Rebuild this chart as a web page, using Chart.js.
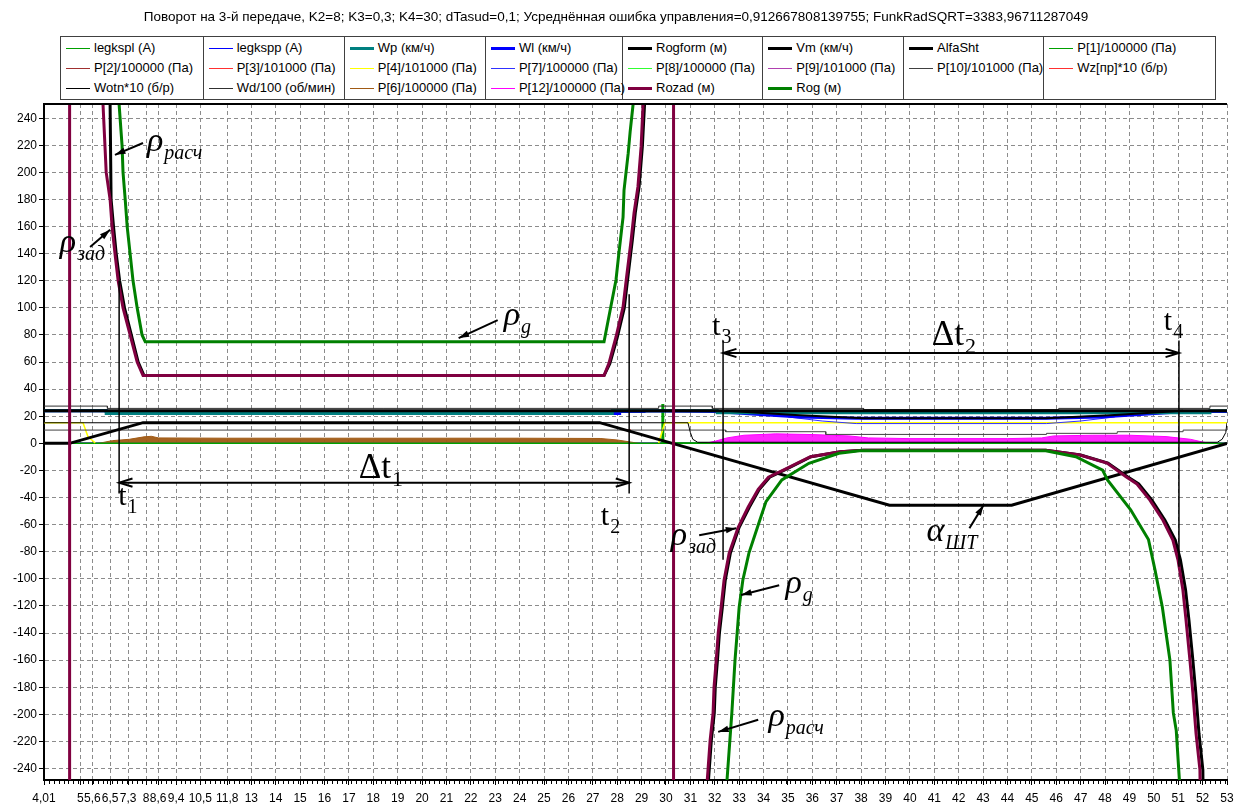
<!DOCTYPE html>
<html>
<head>
<meta charset="utf-8">
<title>Поворот на 3-й передаче</title>
<script src="https://cdn.jsdelivr.net/npm/chart.js@4.4.0/dist/chart.umd.min.js"></script>
<style>
  body { margin: 0; background: #fff; }
  #wrap { position: relative; width: 1244px; height: 812px; overflow: hidden; }
  #chart { position: absolute; left: 0; top: 0; }
  #title { position: absolute; left: 0; top: 9px; width: 1232px; text-align: center;
           font: 13.5px "Liberation Sans", Arial, sans-serif; color: #000; white-space: nowrap; }
  #legend { position: absolute; left: 60px; top: 36px; width: 1156px; height: 64px;
            border: 1px solid #404040; box-sizing: border-box; background: #fff;
            font: 13px "Liberation Sans", Arial, sans-serif; color: #000; }
  .sep { position: absolute; top: 0; bottom: 0; width: 1px; background: #404040; }
  .item { position: absolute; height: 20px; line-height: 20px; white-space: nowrap; }
  .item i { position: absolute; left: 0; width: 24px; }
  .item span { position: absolute; left: 28px; }
</style>
</head>
<body>
<div id="wrap">
  <canvas id="chart" width="1244" height="812"></canvas>
  <div id="title">Поворот на 3-й передаче, K2=8; K3=0,3; K4=30; dTasud=0,1; Усреднённая ошибка управления=0,912667808139755; FunkRadSQRT=3383,96711287049</div>
  <div id="legend"></div>
</div>
<script>
// axis: time labels sit on uneven positions at the start
const xTickPos = [4.5, 5.99, 6.48, 7.21, 7.95, 8.69, 9.18, 9.92, 10.91, 12.01,
  13, 14, 15, 16, 17, 18, 19, 20, 21, 22, 23, 24, 25, 26, 27, 28, 29, 30, 31, 32,
  33, 34, 35, 36, 37, 38, 39, 40, 41, 42, 43, 44, 45, 46, 47, 48, 49, 50, 51, 52, 53];
const xTickLabels = ['4,01', '5', '5,6', '6,5', '7,3', '8', '8,6', '9,4', '10,5', '11,8',
  '13', '14', '15', '16', '17', '18', '19', '20', '21', '22', '23', '24', '25', '26', '27', '28', '29', '30', '31', '32',
  '33', '34', '35', '36', '37', '38', '39', '40', '41', '42', '43', '44', '45', '46', '47', '48', '49', '50', '51', '52', '53'];
const yTicks = [-240, -220, -200, -180, -160, -140, -120, -100, -80, -60, -40, -20, 0,
  20, 40, 60, 80, 100, 120, 140, 160, 180, 200, 220, 240];

// series values
const rozadX = [4.5, 5.55, 5.55, 6.88, 6.92, 7.05, 7.21, 7.29, 7.41, 7.54, 7.74, 8.03, 8.32, 8.56,
  27.46, 27.66, 27.95, 28.24, 28.37, 28.57, 28.69, 28.85, 28.98, 29.06, 29.25, 30.31, 30.31,
  31.6, 31.69, 31.81, 31.93, 31.97, 32.06, 32.14, 32.26, 32.38, 32.59, 32.96, 33.37, 33.78, 34.2, 34.81,
  35.92, 37.15, 38.1, 45.57, 46.97, 48.08, 48.86, 49.31, 49.84, 50.37, 50.78, 50.99, 51.19, 51.32,
  51.48, 51.6, 51.73, 51.89, 52.0, 53.0];
const rozadY = [-5000, -5000, 5000, 400, 250, 200, 180, 160, 140, 120, 100, 80, 60, 50,
  50, 59, 78.5, 100.7, 120.6, 150, 170, 189.5, 219, 250, 400, 5000, -5000,
  -400, -249, -219, -199, -180, -160, -140, -121, -101, -81, -62, -47, -34, -25, -19.7,
  -9.9, -6.2, -5, -5, -8.6, -14.6, -24.6, -30, -41.9, -56.6, -71.4, -86, -108, -130.5,
  -160, -184, -214, -241, -400, -5000];

const rogformX = [7.16, 7.21, 7.25, 7.35, 7.46, 7.6, 7.8, 8.08, 8.36, 8.6,
  27.46, 27.7, 28.0, 28.29, 28.42, 28.62, 28.74, 28.9, 29.03, 29.12, 29.3, 30.3,
  31.65, 31.74, 31.86, 31.98, 32.02, 32.11, 32.19, 32.31, 32.43, 32.64, 33.0, 33.42, 33.82, 34.25, 34.85,
  35.95, 37.15, 38.1, 45.57, 47.0, 48.12, 48.92, 49.38, 49.92, 50.45, 50.88, 51.09, 51.3, 51.44,
  51.6, 51.72, 51.85, 52.01, 52.1];
const rogformY = [400, 250, 180, 160, 140, 120, 100, 80, 60, 50,
  50, 59, 78, 100, 120, 150, 170, 190, 219, 250, 400, null,
  -400, -249, -219, -199, -180, -160, -140, -121, -101, -81, -62, -47, -34, -25, -19.7,
  -9.9, -6.2, -5, -5, -8.6, -14.6, -24.6, -30, -41.9, -56.6, -71.4, -86, -108, -130.5,
  -160, -184, -214, -241, -400];

const rogX = [7.55, 7.58, 7.7, 7.74, 7.83, 7.91, 8.03, 8.15, 8.32, 8.52, 8.65,
  27.46, 27.74, 27.95, 28.07, 28.24, 28.28, 28.45, 28.53, 28.65, 28.8, 30.3,
  32.45, 32.5, 32.7, 32.83, 33.0, 33.15, 33.4, 33.75, 34.1, 34.75, 35.86, 37.09, 37.93,
  45.57, 46.8, 47.9, 48.1, 49.05, 49.78, 50.05, 50.35, 50.5, 50.66, 50.8, 50.92, 51.05, 51.12];
const rogY = [400, 250, 220, 200, 180, 160, 140, 120, 100, 80, 75,
  75, 101, 120.6, 140.5, 167, 187, 214, 230, 250, 400, null,
  -400, -249, -199, -160, -121, -101, -81, -62, -43, -27, -14.7, -7.3, -5.4,
  -5.4, -9.9, -19.7, -27, -49, -71, -93.6, -121, -140, -160, -199, -212, -249, -400];

const alfaX = [4.5, 5.55, 8.56, 27.28, 39.16, 44.17, 53.0];
const alfaY = [0, 0, 15.3, 15.3, -45.6, -45.6, 0];

const vmX = [4.5, 53.0];
const vmY = [24.1, 24.1];
const vmDipX = [32.47, 35.3, 38.1, 45.57, 48.4, 51.2];
const vmDipY = [24.1, 21, 18.5, 18.5, 21, 24.1];

const wpX = [4.5, 7.05, 7.05, 27.8, 27.8, 32.1, 32.1, 52.3, 52.3, 53.0];
const wpY = [24.1, 24.1, 22.1, 22.1, 24.1, 24.1, 22.6, 22.6, 24.1, 24.1];

const wlX = [4.5, 7.05, 7.05, 8.56, 8.56, 28.1, 28.1, 29.1, 29.1, 32.0, 33.7, 35.5, 37.8, 45.6, 47.8, 49.6, 51.3, 53.0];
const wlY = [24.1, 24.1, 23.5, 23.5, 22.1, 22.1, 23.5, 23.5, 24.1, 23.6, 21.5, 19.5, 18.5, 18.5, 19.5, 21.5, 23.6, 23.6];

const wdX = [4.5, 7.1, 7.1, 29.7, 29.7, 31.9, 31.9, 38.1, 38.1, 46.1, 46.1, 52.3, 52.3, 53.0];
const wdY = [27.5, 27.5, 25.8, 25.8, 27.5, 27.5, 25.8, 25.8, 24.9, 24.9, 25.8, 25.8, 27.5, 27.5];

const p10X = [4.5, 32.45, 32.45, 36.55, 36.55, 45.6, 45.6, 48.5, 48.5, 51.2, 51.2, 53.0];
const p10Y = [9.8, 9.8, 8.6, 8.6, 6.6, 6.6, 7.4, 7.4, 8.6, 8.6, 9.8, 9.8];

const wotnX = [4.5, 30.9, 31.0, 31.1, 31.3, 52.6, 52.8, 52.95, 53.0];
const wotnY = [15.2, 15.2, 8, 3, 0.8, 0.8, 3, 8, 15.2];

const p7X = [35.0, 36.4, 37.8, 45.6, 47.0, 48.4];
const p7Y = [19.5, 16.5, 14.6, 14.6, 16.5, 19.5];

const p4X = [4.5, 6.1, 6.3, 6.6, 18, 29.7, 29.95, 53.0];
const p4Y = [15.2, 15.2, 5, 0.3, null, 0.3, 15.2, 15.2];

const legksplX = [4.5, 29.84, 29.84, 29.9, 29.9, 53.0];
const legksplY = [0, 0, 28.5, 28.5, 0, 0];

const p12X = [4.5, 30.3, 31.6, 32.0, 32.5, 33.2, 34.5, 36.0, 37.5, 38.3, 40, 42, 44, 45.4, 45.9, 47.5, 49, 50.5, 51.5, 52.0, 52.3, 53.0];
const p12Y = [0, 0, 0, 1.5, 4, 6, 7, 6.5, 5.5, 4, 3.5, 3.5, 3.5, 4, 5.5, 6, 6, 5, 3, 1, 0, 0];

const p6X = [4.5, 6.74, 7.3, 8.0, 8.6, 8.9, 9.2, 12, 16, 20, 24, 27.3, 28.0, 28.9, 53.0];
const p6Y = [0, 0, 2, 3, 4.8, 5.2, 4, 3.8, 3.8, 3.8, 3.8, 3.6, 2.5, 0, 0];

const legksppX = [4.5, 53.0];
const legksppY = [0.3, 0.3];
const p1X = [29.9, 31.7];
const p1Y = [0.4, 0.4];
const p2X = [4.5, 53.0];
const p2Y = [0, 0];
const p3X = [7.52, 7.64];
const p3Y = [10, 10];
const p8X = [4.5, 53.0];
const p8Y = [0, 0];
const p9X = [4.5, 53.0];
const p9Y = [0, 0];
const wzX = [28.42, 28.56];
const wzY = [9.8, 9.8];

function pts(xs, ys) {
  return xs.map((x, i) => ({ x: x, y: ys[i] }));
}

// draw order: first is at the bottom
const series = [
  { label: 'P[2]/100000 (Па)', xs: p2X, ys: p2Y, color: '#a03030', w: 1 },
  { label: 'P[8]/100000 (Па)', xs: p8X, ys: p8Y, color: '#30ff30', w: 1 },
  { label: 'P[9]/101000 (Па)', xs: p9X, ys: p9Y, color: '#b040b0', w: 1 },
  { label: 'legkspp (A)', xs: legksppX, ys: legksppY, color: '#0000ff', w: 1 },
  { label: 'P[6]/100000 (Па)', xs: p6X, ys: p6Y, color: '#a05a14', w: 1, fill: 'rgba(160,90,20,0.95)' },
  { label: 'P[12]/100000 (Па)', xs: p12X, ys: p12Y, color: '#ff00ff', w: 1, fill: 'rgba(255,0,255,0.85)' },
  { label: 'P[1]/100000 (Па)', xs: p1X, ys: p1Y, color: '#00a000', w: 1 },
  { label: 'legkspl (A)', xs: legksplX, ys: legksplY, color: '#00a000', w: 1.5 },
  { label: 'P[4]/101000 (Па)', xs: p4X, ys: p4Y, color: '#ffff00', w: 1.5 },
  { label: 'P[3]/101000 (Па)', xs: p3X, ys: p3Y, color: '#ff3030', w: 2 },
  { label: 'Wz[пр]*10 (б/р)', xs: wzX, ys: wzY, color: '#ff3030', w: 2 },
  { label: 'P[10]/101000 (Па)', xs: p10X, ys: p10Y, color: '#404040', w: 1 },
  { label: 'Wotn*10 (б/р)', xs: wotnX, ys: wotnY, color: '#000000', w: 1 },
  { label: 'Wd/100 (об/мин)', xs: wdX, ys: wdY, color: '#303030', w: 1 },
  { label: 'P[7]/100000 (Па)', xs: p7X, ys: p7Y, color: '#3030ff', w: 1 },
  { label: 'Wl (км/ч)', xs: wlX, ys: wlY, color: '#0000ff', w: 3 },
  { label: 'Wp (км/ч)', xs: wpX, ys: wpY, color: '#008080', w: 3 },
  { label: 'Vm (км/ч)', xs: vmX, ys: vmY, color: '#000000', w: 3 },
  { label: 'Vm (км/ч) ', xs: vmDipX, ys: vmDipY, color: '#000000', w: 2 },
  { label: 'AlfaSht', xs: alfaX, ys: alfaY, color: '#000000', w: 3 },
  { label: 'Rogform (м)', xs: rogformX, ys: rogformY, color: '#000000', w: 3 },
  { label: 'Rozad (м)', xs: rozadX, ys: rozadY, color: '#800040', w: 3 },
  { label: 'Rog (м)', xs: rogX, ys: rogY, color: '#008000', w: 3 }
];

const legendOrder = [
  'legkspl (A)', 'legkspp (A)', 'Wp (км/ч)', 'Wl (км/ч)', 'Rogform (м)', 'Vm (км/ч)', 'AlfaSht', 'P[1]/100000 (Па)',
  'P[2]/100000 (Па)', 'P[3]/101000 (Па)', 'P[4]/101000 (Па)', 'P[7]/100000 (Па)', 'P[8]/100000 (Па)', 'P[9]/101000 (Па)', 'P[10]/101000 (Па)', 'Wz[пр]*10 (б/р)',
  'Wotn*10 (б/р)', 'Wd/100 (об/мин)', 'P[6]/100000 (Па)', 'P[12]/100000 (Па)', 'Rozad (м)', 'Rog (м)'
];

// hand drawn marks (time, value)
const markLines = [
  { x: 7.58, y1: 120, y2: -37 },
  { x: 28.49, y1: 110, y2: -37 },
  { x: 32.34, y1: 76, y2: -86 },
  { x: 51.03, y1: 76, y2: -91 }
];
const spanArrows = [
  { x1: 7.58, x2: 28.49, y: -29 },
  { x1: 32.34, x2: 51.03, y: 66.7 }
];
const pointArrows = [
  { x1: 8.56, y1: 221.7, x2: 7.41, y2: 213 },
  { x1: 6.39, y1: 145, x2: 7.21, y2: 157.6 },
  { x1: 23.1, y1: 91, x2: 21.5, y2: 77.7 },
  { x1: 31.36, y1: -67.8, x2: 32.88, y2: -62.6 },
  { x1: 34.64, y1: -104.7, x2: 33.08, y2: -112 },
  { x1: 33.78, y1: -204, x2: 32.14, y2: -213 },
  { x1: 42.44, y1: -62.6, x2: 43.02, y2: -45.6 }
];
const marks = [
  { main: 'ρ', sub: 'расч', x: 8.72, y: 216, italic: true },
  { main: 'ρ', sub: 'зад', x: 5.15, y: 141, italic: true },
  { main: 'ρ', sub: 'g', x: 23.35, y: 87.5, italic: true },
  { main: 'ρ', sub: 'зад', x: 30.2, y: -75, italic: true },
  { main: 'ρ', sub: 'g', x: 34.9, y: -110.6, italic: true },
  { main: 'ρ', sub: 'расч', x: 34.2, y: -209, italic: true },
  { main: 'α', sub: 'ШТ', x: 40.68, y: -71.8, italic: true },
  { main: 't', sub: '1', x: 7.54, y: -45.5 },
  { main: 't', sub: '2', x: 27.33, y: -60.3 },
  { main: 't', sub: '3', x: 31.89, y: 80 },
  { main: 't', sub: '4', x: 50.41, y: 83.7 },
  { main: 'Δt', sub: '1', x: 17.4, y: -25.6, big: true },
  { main: 'Δt', sub: '2', x: 40.9, y: 72.6, big: true }
];

function head(ctx, x1, y1, x2, y2, len, spread, filled) {
  const a = Math.atan2(y2 - y1, x2 - x1);
  ctx.beginPath();
  ctx.moveTo(x2 - len * Math.cos(a - spread), y2 - len * Math.sin(a - spread));
  ctx.lineTo(x2, y2);
  ctx.lineTo(x2 - len * Math.cos(a + spread), y2 - len * Math.sin(a + spread));
  if (filled) {
    ctx.closePath();
    ctx.fill();
  } else {
    ctx.stroke();
  }
}

const drawings = {
  id: 'drawings',
  afterDatasetsDraw(chart) {
    const ctx = chart.ctx;
    const xs = chart.scales.x;
    const ys = chart.scales.y;
    const area = chart.chartArea;
    ctx.save();
    // top frame line
    ctx.strokeStyle = '#000';
    ctx.lineWidth = 2;
    ctx.beginPath();
    ctx.moveTo(area.left, area.top);
    ctx.lineTo(area.right, area.top);
    ctx.stroke();
    // minor ticks under the time axis
    ctx.lineWidth = 1;
    ctx.beginPath();
    for (let v = xs.min; v <= xs.max; v += 0.2) {
      const px = Math.round(xs.getPixelForValue(v)) + 0.5;
      ctx.moveTo(px, area.bottom + 1);
      ctx.lineTo(px, area.bottom + 4);
    }
    ctx.stroke();

    ctx.fillStyle = '#000';
    ctx.lineWidth = 1.5;
    markLines.forEach(m => {
      const px = xs.getPixelForValue(m.x);
      ctx.beginPath();
      ctx.moveTo(px, ys.getPixelForValue(m.y1));
      ctx.lineTo(px, ys.getPixelForValue(m.y2));
      ctx.stroke();
    });
    ctx.lineWidth = 2;
    spanArrows.forEach(a => {
      const p1 = xs.getPixelForValue(a.x1);
      const p2 = xs.getPixelForValue(a.x2);
      const py = ys.getPixelForValue(a.y);
      ctx.beginPath();
      ctx.moveTo(p1, py);
      ctx.lineTo(p2, py);
      ctx.stroke();
      head(ctx, p2, py, p1, py, 14, 0.3, false);
      head(ctx, p1, py, p2, py, 14, 0.3, false);
    });
    pointArrows.forEach(a => {
      const x1 = xs.getPixelForValue(a.x1), y1 = ys.getPixelForValue(a.y1);
      const x2 = xs.getPixelForValue(a.x2), y2 = ys.getPixelForValue(a.y2);
      ctx.beginPath();
      ctx.moveTo(x1, y1);
      ctx.lineTo(x2, y2);
      ctx.stroke();
      head(ctx, x1, y1, x2, y2, 11, 0.3, true);
    });
    marks.forEach(m => {
      const px = xs.getPixelForValue(m.x);
      const py = ys.getPixelForValue(m.y);
      const st = m.italic ? 'italic ' : '';
      const size = m.italic ? 34 : (m.big ? 35 : 30);
      ctx.font = st + size + 'px "Liberation Serif", serif';
      ctx.textBaseline = 'alphabetic';
      ctx.textAlign = 'left';
      ctx.fillText(m.main, px, py);
      const w = ctx.measureText(m.main).width;
      ctx.font = st + (m.big ? 22 : 20) + 'px "Liberation Serif", serif';
      ctx.fillText(m.sub, px + w + 1, py + 8);
    });
    ctx.restore();
  }
};

const ctxChart = document.getElementById('chart').getContext('2d');
new Chart(ctxChart, {
  type: 'line',
  data: {
    datasets: series.map((s, i) => ({
      label: s.label,
      data: pts(s.xs, s.ys),
      borderColor: s.color,
      backgroundColor: s.fill || s.color,
      borderWidth: s.w,
      fill: s.fill ? 'origin' : false,
      pointRadius: 0,
      tension: 0,
      order: -i
    }))
  },
  options: {
    responsive: false,
    devicePixelRatio: 1,
    animation: false,
    layout: { padding: { top: 104, right: 17, left: 0, bottom: 0 } },
    plugins: { legend: { display: false }, tooltip: { enabled: false } },
    scales: {
      x: {
        type: 'linear',
        min: 4.5,
        max: 53,
        afterBuildTicks: scale => { scale.ticks = xTickPos.map(v => ({ value: v })); },
        afterFit: scale => { scale.height = 32; },
        ticks: {
          autoSkip: false,
          maxRotation: 0,
          padding: 6,
          color: '#000',
          font: { family: '"Liberation Sans", Arial, sans-serif', size: 12 },
          callback: (v, i) => xTickLabels[i]
        },
        grid: { color: '#8c8c8c', lineWidth: 1, tickLength: 5, tickColor: '#000', tickBorderDash: [] },
        border: { display: true, color: '#000', width: 2, dash: [4, 3] }
      },
      y: {
        type: 'linear',
        min: -248.5,
        max: 250.5,
        afterBuildTicks: scale => { scale.ticks = yTicks.map(v => ({ value: v })); },
        afterFit: scale => { scale.width = 44; },
        ticks: {
          padding: 2,
          color: '#000',
          font: { family: '"Liberation Sans", Arial, sans-serif', size: 12 },
          callback: v => String(v)
        },
        grid: { color: '#8c8c8c', lineWidth: 1, tickLength: 5, tickColor: '#000', tickBorderDash: [] },
        border: { display: true, color: '#000', width: 2, dash: [4, 3] }
      }
    }
  },
  plugins: [drawings]
});

// table legend like the original
const legendBox = document.getElementById('legend');
const colX = [0, 142.7, 283.8, 424.9, 562, 702.3, 843, 983.3];
colX.slice(1).forEach(x => {
  const d = document.createElement('div');
  d.className = 'sep';
  d.style.left = (x - 1) + 'px';
  legendBox.appendChild(d);
});
legendOrder.forEach((name, k) => {
  const s = series.find(t => t.label === name);
  const row = Math.floor(k / 8);
  const col = k % 8;
  const item = document.createElement('div');
  item.className = 'item';
  item.style.left = (colX[col] + 5) + 'px';
  item.style.top = (1 + row * 20) + 'px';
  const line = document.createElement('i');
  const lw = s.w >= 3 ? 3 : 1;
  line.style.height = lw + 'px';
  line.style.top = (10 - lw / 2) + 'px';
  line.style.background = s.color;
  const txt = document.createElement('span');
  txt.textContent = name;
  item.appendChild(line);
  item.appendChild(txt);
  legendBox.appendChild(item);
});
</script>
</body>
</html>
